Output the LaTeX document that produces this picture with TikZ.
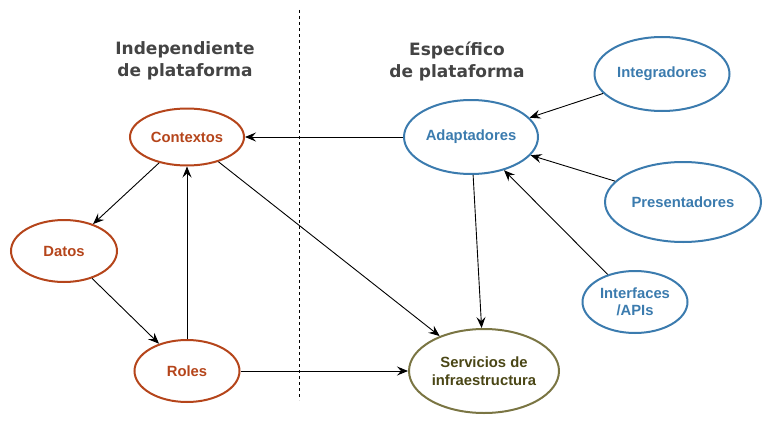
\documentclass[tikz,border=0pt]{standalone}
\usepackage{fontspec}
\setmainfont{Liberation Sans}
\newfontfamily\titlefont{DejaVu Sans}
\usetikzlibrary{shapes.geometric,arrows.meta}
\definecolor{rust}{HTML}{B5451B}
\definecolor{bluec}{HTML}{3B7BAE}
\definecolor{olive}{HTML}{7A7543}
\definecolor{olivetext}{HTML}{4A4615}
\definecolor{titlegray}{HTML}{444444}
\tikzset{
  el/.style={ellipse, draw, line width=2pt, inner sep=0pt, align=center,
    font=\fontsize{14.8}{17.5}\selectfont\bfseries},
  indep/.style={el, draw=rust, text=rust},
  spec/.style={el, draw=bluec, text=bluec},
  infra/.style={el, draw=olive, text=olivetext},
  arr/.style={draw=black, line width=0.9pt, -{Stealth[length=11pt,width=9pt,inset=4pt]}},
  ttl/.style={font=\titlefont\fontsize{17}{22}\selectfont\bfseries, text=titlegray, align=center}
}
\begin{document}
\begin{tikzpicture}[x=1pt,y=-1pt]
\useasboundingbox (0,0) rectangle (770,420);
\draw[dashed, line width=0.8pt] (299,10) -- (299,400);
\node[ttl] (t1) at (185,61) {Independiente\\de plataforma};
\node[ttl] (t2) at (457,61) {Específico\\de plataforma};
\node[indep, minimum width=114pt, minimum height=57pt] (ctx) at (187,137) {Contextos};
\node[indep, minimum width=106pt, minimum height=62pt] (datos) at (64,251) {Datos};
\node[indep, minimum width=105pt, minimum height=62pt] (roles) at (187,371) {Roles};
\node[spec, minimum width=134pt, minimum height=74pt] (adapt) at (471,137) {Adaptadores};
\node[spec, minimum width=135pt, minimum height=74pt] (integ) at (662,74) {Integradores};
\node[spec, minimum width=156pt, minimum height=80pt] (pres) at (683,202) {Presentadores};
\node[spec, minimum width=105pt, minimum height=62pt] (apis) at (635,302) {Interfaces\\/APIs};
\node[infra, minimum width=150pt, minimum height=84pt] (serv) at (484,371) {Servicios de\\infraestructura};
\draw[arr] (adapt) -- (ctx);
\draw[arr] (ctx) -- (datos);
\draw[arr] (datos) -- (roles);
\draw[arr] (roles) -- (ctx);
\draw[arr] (ctx) -- (serv);
\draw[arr] (roles) -- (serv);
\draw[arr] (adapt) -- (serv);
\draw[arr] (integ) -- (adapt);
\draw[arr] (pres) -- (adapt);
\draw[arr] (apis) -- (adapt);
\end{tikzpicture}
\end{document}
